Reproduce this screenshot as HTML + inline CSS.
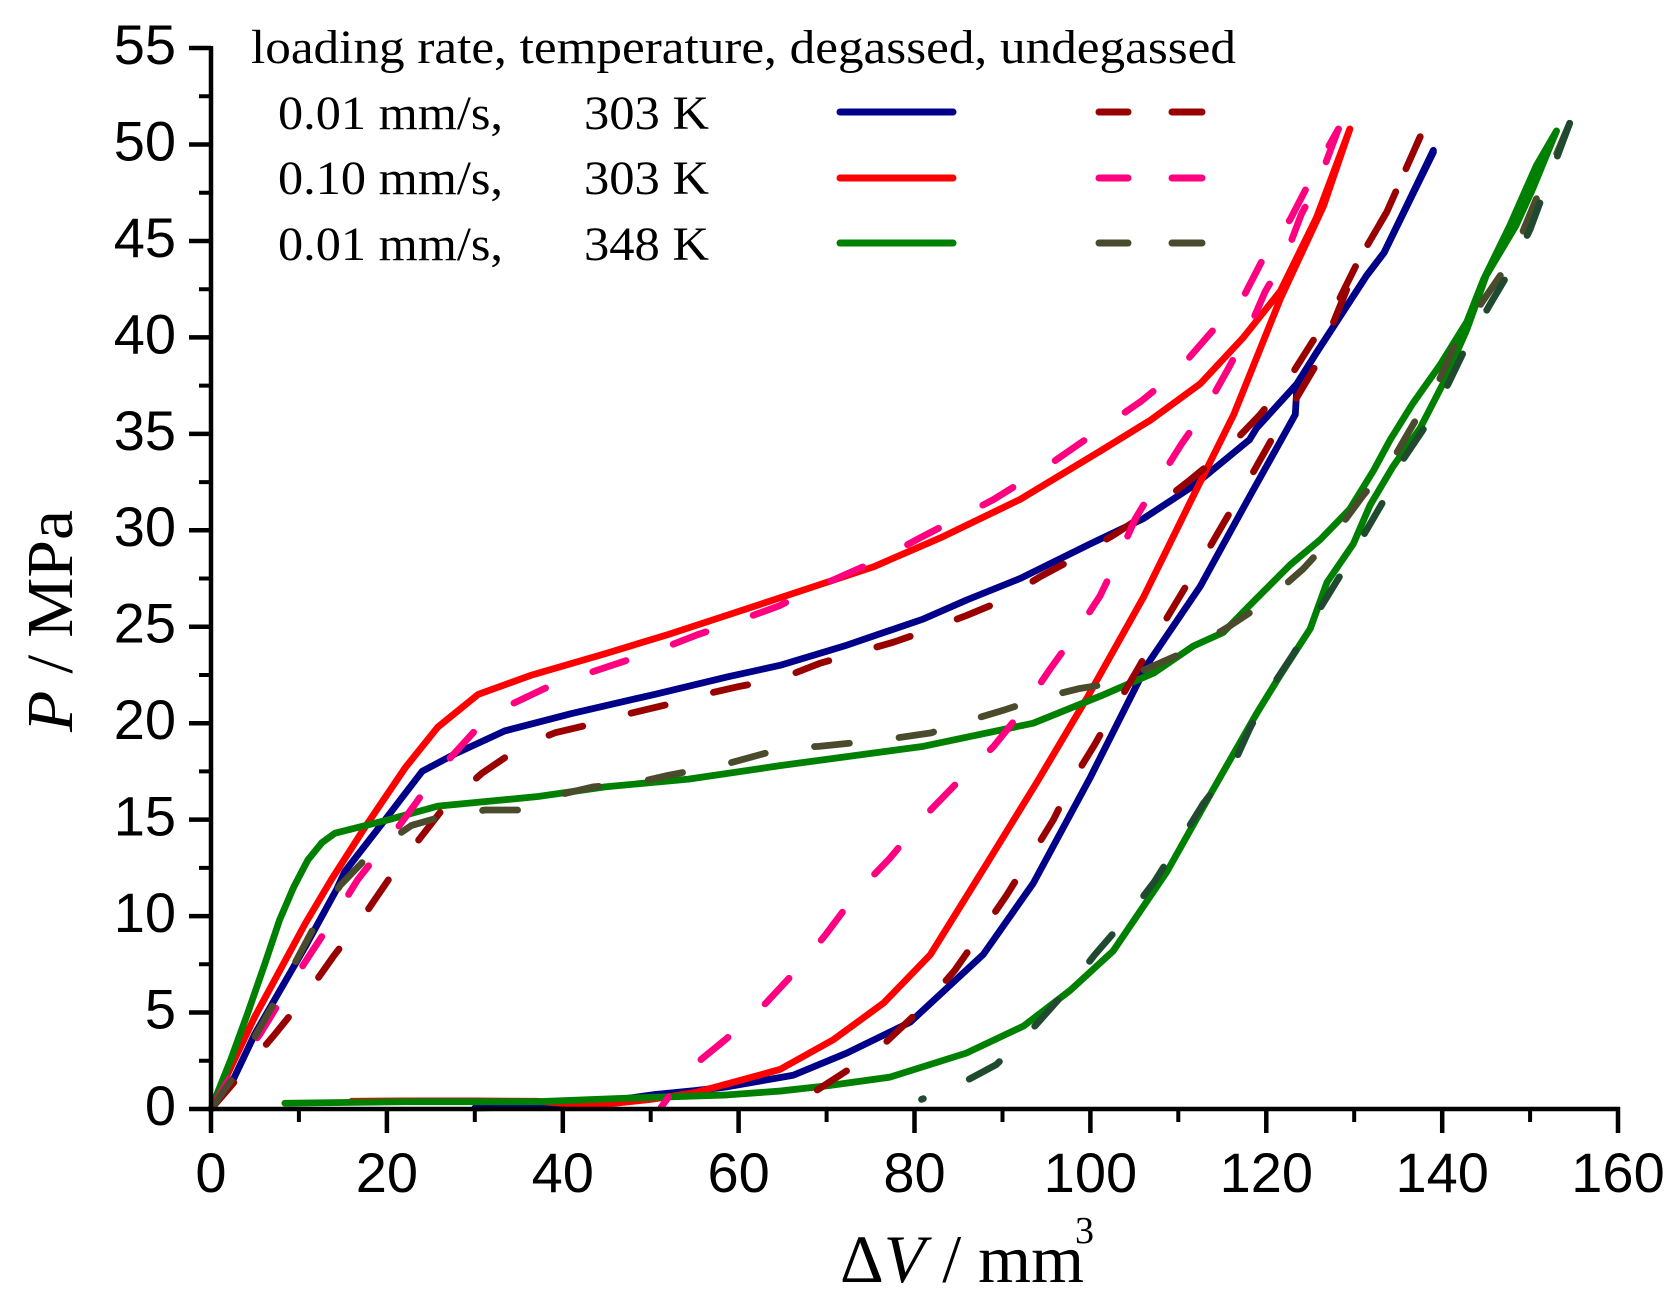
<!DOCTYPE html>
<html>
<head>
<meta charset="utf-8">
<style>
  html,body{margin:0;padding:0;background:#fff;}
  svg{display:block;}
  .tl{font-family:"Liberation Sans",Arial,sans-serif;font-size:56px;fill:#000;}
  .sf{font-family:"Liberation Serif","Times New Roman",serif;fill:#000;}
  .d{fill:none;stroke-width:6.8;stroke-linejoin:round;stroke-linecap:round;vector-effect:non-scaling-stroke;}
  .dash{stroke-dasharray:35 50;}
</style>
</head>
<body>
<svg width="1677" height="1308" viewBox="0 0 1677 1308" xmlns="http://www.w3.org/2000/svg">
<rect width="1677" height="1308" fill="#fff"/>

<!-- data -->
<g transform="matrix(8.794,0,0,-19.29,211,1109)">
  <!-- blue solid -->
  <polyline class="d" stroke="#000088" points="0,0 2.5,1.5 5,3.9 10.7,8.4 14.3,11.4 15.2,12.3 19.8,15.0 24.0,17.5 27.7,18.4 33.4,19.6 41,20.5 50.5,21.5 58.7,22.4 64.7,23.0 72,24 81,25.4 86,26.4 92,27.5 100,29.3 106,30.6 111.7,32.3 118.1,34.7 118.9,35.3 123.5,37.6 125.7,39.2 131.4,43.2 133.4,44.4 139,49.7"/>
  <polyline class="d" stroke="#000088" points="139,49.6 133.4,44.4 131.4,43.2 125.7,39.2 123.5,37.6 123.3,36.0 117.8,31.5 112.5,27.1 106.4,23.0 100,17.2 93.5,11.7 87.8,8.0 79.5,4.5 72.3,2.9 66.2,1.75 58.7,1.15 55,0.95 50.5,0.75 45,0.4 40,0.15 30,0.05"/>
  <!-- red solid -->
  <polyline class="d" stroke="#ff0000" points="0,0 5,4.8 10.7,9.6 13.7,11.9 17.5,14.6 22.1,17.7 25.8,19.8 30.4,21.5 36.5,22.5 44.8,23.6 52,24.6 58.7,25.6 64.7,26.5 75.3,28.1 82.9,29.6 92,31.6 101.1,34.1 106.8,35.7 112.5,37.6 117.4,40.0 121.6,42.4 125.7,46.2 127.6,48.5 129.5,50.8"/>
  <polyline class="d" stroke="#ff0000" points="129.5,50.8 126.5,46.8 121.6,42.0 116.3,36.0 111.5,31.6 106,26.5 99.6,21.3 94,17.0 88.2,12.7 81.8,8.0 76.5,5.5 70.8,3.6 64.7,2.05 58.7,1.3 55,0.85 50,0.5 45,0.25 40,0.3 37,0.4 30,0.42 22,0.42 16,0.4"/>
  <!-- green solid -->
  <polyline class="d" stroke="#008000" points="0,0 2.2,2.5 4.2,5 6.1,7.5 7.8,9.8 9.4,11.5 11.0,12.9 12.6,13.8 14.1,14.3 20.2,15.0 25.8,15.7 37.2,16.2 44.8,16.7 54.3,17.1 64.7,17.8 81,18.8 93.5,20.0 101.1,21.4 107.2,22.6 111.7,24.0 115.1,24.7 118.1,26.1 122.7,28.2 126.1,29.5 129.5,31.1 132.2,33.1 134.1,34.7 136.7,36.6 139.8,38.6 142.8,40.8 144.7,43.0 147.7,45.8 150.7,48.9 153,50.7"/>
  <polyline class="d" stroke="#008000" points="153,50.7 150.3,47.7 148.4,45.8 145,43.2 142.8,40.4 140.1,37.6 137.5,35.3 134.4,33.3 131.8,31.3 129.9,29.3 126.9,27.3 125,24.9 121.6,22.5 118.9,20.5 114,16.6 108.7,12.3 102.6,8.2 97.7,6.15 92.4,4.3 85.9,2.9 77.2,1.65 70,1.2 64.7,0.93 58.7,0.73 46.7,0.55 37.2,0.38 22.1,0.38 8.4,0.3"/>
  <!-- dark red dashed -->
  <polyline class="d dash" stroke="#990000" points="0,0 3.5,1.85 7.3,3.9 10.5,5.7 13.9,7.9 16.9,9.7 20.2,11.9 23.2,13.7 26.6,15.7 30.8,17.4 35.3,18.8 39.1,19.5 43.7,20 47.6,20.5 52.2,21 56.2,21.5 60,21.9 64.7,22.3 69.2,23.1 73,23.6 77.6,24.2 81.4,24.8 86,25.6 89.7,26.3 94.3,27.6 98.4,28.6 102.8,29.8 106.8,31 111.3,32.6 115.3,34.1 119.3,36 122.5,37.8 125.7,40.1 128,41.7 130.5,44 133.7,46.5 137.5,50.4"/>
  <polyline class="d dash" stroke="#990000" points="137.5,50.4 133.7,46.5 130.5,44 125.7,38.6 123.5,36.9 120.6,34.7 118.5,33.0 115.7,30.8 113.4,29.0 110.6,26.9 108.1,25 105.5,22.9 103.2,21.1 100.5,18.9 98.2,17.2 95.8,15 93.5,13.3 90.5,11.1 87.8,9.3 84.6,7.2 81,5.3 76.6,3.4 72.9,2.16 68.3,0.8 65.5,0.1"/>
  <!-- pink dashed -->
  <polyline class="d dash" stroke="#ff0080" points="0,0 2.5,1.9 5.6,3.9 8,5.7 11.1,7.9 13.7,9.7 16.7,11.9 19.8,13.7 23.2,15.8 26,17.6 30,19.6 33.8,20.9 38.4,21.9 42.3,22.5 46.9,23.2 50.9,23.8 55.4,24.6 58.7,25.1 64.7,26.1 67.7,26.8 72.1,27.7 76.1,28.5 80.6,29.6 84.4,30.5 89,31.6 95,33.3 101,35.2 105.8,36.7 109.8,38.2 114,40.4 117.4,42.1 120,44.4 122.7,46.1 125.2,48.3 127.2,50 128.2,50.8"/>
  <polyline class="d dash" stroke="#ff0080" points="128.2,50.8 125.9,48.0 124,46.4 122.1,44.1 119.9,42.4 117.8,40.2 115.7,38.4 113,36.2 110.4,34.5 107.5,32.4 105.1,30.6 103,28.4 101.1,26.6 98.1,24.5 95.4,22.8 92,20.5 89,18.8 84.6,16.8 81.2,15.2 77.2,13 73.6,11.3 70,9.1 66.8,7.3 62.5,5.2 58.5,3.6 54.2,2.0 51.2,0.1"/>
  <!-- olive dashed -->
  <polyline class="d dash" stroke="#4a4a2c" points="0,0 2.3,1.5 5,3.75 7.3,5.6 9.7,7.7 11.8,9.5 14.7,11.6 18.3,13.3 22.8,14.7 26.6,15.2 31.2,15.5 35.1,15.5 39.7,16.3 43.5,16.7 48.2,16.9 52,17.3 56.6,17.7 58.7,17.9 65.1,18.7 69.1,18.8 73.4,19.0 77.4,19.2 81.9,19.5 85.9,20.1 90.3,20.7 94.3,21.3 98.8,21.8 102.8,22.1 107.3,23.0 111.3,23.8 115.7,25.0 119.7,26.2 124.2,28.0 127.6,29.7 131,31.8 134.3,33.6 137.1,35.8 139.4,37.5 141.6,39.8 144.5,41.8 147.2,43.6 149.1,45.4 151,47.5 152.3,49.1 153,49.5 154.5,51.1"/>
  <polyline class="d dash" stroke="#1f4a2f" points="154.5,51.1 151.3,47.2 150,45.6 147.5,43.3 145.3,41.6 142.6,39.4 140.7,37.6 138.1,35.4 135.6,33.7 133.3,31.5 131,29.7 128.2,27.5 125.9,25.8 123.1,23.6 120.5,21.8 118.1,19.7 116.3,17.9 112.8,15.8 110.2,13.9 107.3,11.8 104.3,10.0 100.5,8.0 97.3,6.15 93.1,4.0 89.3,2.3 84.8,1.2 80.8,0.5"/>
</g>

<!-- axes -->
<g stroke="#000" stroke-width="4.5" fill="none">
  <line x1="211" y1="46" x2="211" y2="1111"/>
  <line x1="209" y1="1109" x2="1620" y2="1109"/>
  <path d="M189 1109H211M189 1012.55H211M189 916.1H211M189 819.65H211M189 723.2H211M189 626.75H211M189 530.3H211M189 433.85H211M189 337.4H211M189 240.95H211M189 144.5H211M189 48.05H211"/>
  <path stroke-width="4" d="M199 1060.8H211M199 964.3H211M199 867.9H211M199 771.4H211M199 675H211M199 578.5H211M199 482.1H211M199 385.6H211M199 289.2H211M199 192.7H211M199 96.3H211"/>
  <path d="M211 1109V1133M386.9 1109V1133M562.8 1109V1133M738.6 1109V1133M914.5 1109V1133M1090.4 1109V1133M1266.3 1109V1133M1442.2 1109V1133M1618 1107V1133"/>
  <path stroke-width="4" d="M298.9 1109V1122M474.8 1109V1122M650.7 1109V1122M826.6 1109V1122M1002.5 1109V1122M1178.3 1109V1122M1354.2 1109V1122M1530.1 1109V1122"/>
</g>

<!-- y tick labels -->
<g class="tl" text-anchor="end">
  <text x="176" y="1125">0</text>
  <text x="176" y="1028.5">5</text>
  <text x="176" y="932">10</text>
  <text x="176" y="835.5">15</text>
  <text x="176" y="739">20</text>
  <text x="176" y="642.5">25</text>
  <text x="176" y="546">30</text>
  <text x="176" y="450">35</text>
  <text x="176" y="353.5">40</text>
  <text x="176" y="257">45</text>
  <text x="176" y="160.5">50</text>
  <text x="176" y="64">55</text>
</g>
<!-- x tick labels -->
<g class="tl" text-anchor="middle">
  <text x="211" y="1192">0</text>
  <text x="386.9" y="1192">20</text>
  <text x="562.8" y="1192">40</text>
  <text x="738.6" y="1192">60</text>
  <text x="914.5" y="1192">80</text>
  <text x="1090.4" y="1192">100</text>
  <text x="1266.3" y="1192">120</text>
  <text x="1442.2" y="1192">140</text>
  <text x="1618" y="1192">160</text>
</g>

<!-- axis titles -->
<text class="sf" font-size="66" text-anchor="middle" transform="translate(72,621) rotate(-90)" textLength="222" lengthAdjust="spacingAndGlyphs"><tspan font-style="italic">P</tspan> / MPa</text>
<text class="sf" font-size="68" x="840" y="1282">Δ<tspan font-style="italic">V</tspan> / mm</text>
<text class="sf" font-size="38" x="1075" y="1243">3</text>

<!-- legend -->
<g class="sf" font-size="48">
  <text x="251" y="63" textLength="985" lengthAdjust="spacingAndGlyphs">loading rate, temperature, degassed, undegassed</text>
  <text x="278" y="129" textLength="225" lengthAdjust="spacingAndGlyphs">0.01 mm/s,</text>
  <text x="584" y="129" textLength="125" lengthAdjust="spacingAndGlyphs">303 K</text>
  <text x="278" y="194" textLength="225" lengthAdjust="spacingAndGlyphs">0.10 mm/s,</text>
  <text x="584" y="194" textLength="125" lengthAdjust="spacingAndGlyphs">303 K</text>
  <text x="278" y="260" textLength="225" lengthAdjust="spacingAndGlyphs">0.01 mm/s,</text>
  <text x="584" y="260" textLength="125" lengthAdjust="spacingAndGlyphs">348 K</text>
</g>
<g stroke-width="7" stroke-linecap="round" fill="none">
  <line x1="840" y1="112" x2="953" y2="112" stroke="#000088"/>
  <line x1="840" y1="178" x2="953" y2="178" stroke="#ff0000"/>
  <line x1="840" y1="243" x2="953" y2="243" stroke="#008000"/>
  <path d="M1099 112H1128M1172 112H1202" stroke="#990000"/>
  <path d="M1099 178H1128M1172 178H1202" stroke="#ff0080"/>
  <path d="M1099 243H1128M1172 243H1202" stroke="#4a4a2c"/>
</g>
</svg>
</body>
</html>
